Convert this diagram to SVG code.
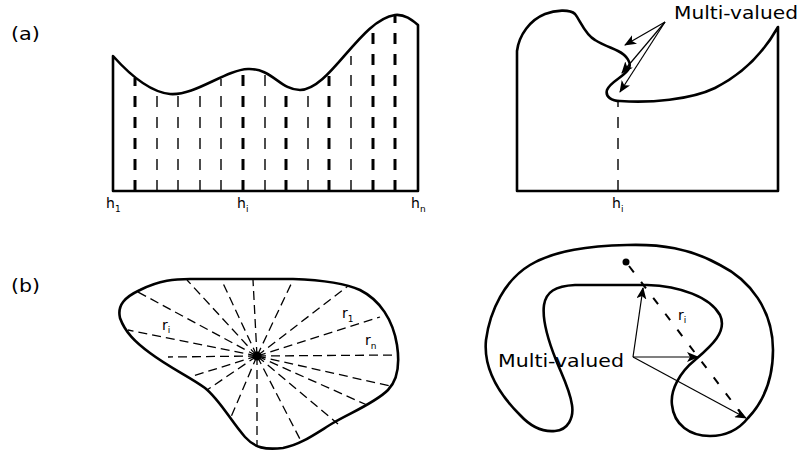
<svg xmlns="http://www.w3.org/2000/svg" width="800" height="452" viewBox="0 0 800 452">
<defs>
<style>
.outline{fill:none;stroke:#000;stroke-width:2.6;stroke-linejoin:round;stroke-linecap:round}
.thick{stroke:#000;stroke-width:3;stroke-dasharray:11 10}
.thin{stroke:#000;stroke-width:1.4;stroke-dasharray:11 10}
.ray{stroke:#000;stroke-width:1.3;stroke-dasharray:9 5;fill:none}
.arr{stroke:#000;stroke-width:1.2;fill:none;marker-end:url(#ah)}
.lbl{font-family:"DejaVu Sans","Liberation Sans",sans-serif;fill:#000}
.sub{font-size:9px}
</style>
<marker id="ah" viewBox="0 0 12 10" refX="11" refY="5" markerWidth="12" markerHeight="10" markerUnits="userSpaceOnUse" orient="auto">
<path d="M0,0 L12,5 L0,10 L3,5 Z" fill="#000"/>
</marker>
</defs>
<rect width="800" height="452" fill="#fff"/>

<text class="lbl" x="11" y="40" font-size="17" textLength="29" lengthAdjust="spacingAndGlyphs">(a)</text>
<text class="lbl" x="11" y="292" font-size="17" textLength="29" lengthAdjust="spacingAndGlyphs">(b)</text>

<!-- (a) left: height field -->
<g id="heightfield">
<path class="outline" d="M113,191 V56 C130,75 150,92 170,94 C195,96 225,70 248,69 C272,68 280,90 300,90 C330,90 360,20 395,15 C405,14 412,20 418,25 V191 Z"/>
<g id="samples">
<path class="thick" d="M135,191 V78"/>
<path class="thin" d="M157,191 V89"/>
<path class="thin" d="M178,191 V95"/>
<path class="thin" d="M200,191 V90"/>
<path class="thin" d="M221,191 V79"/>
<path class="thick" d="M243,191 V70"/>
<path class="thin" d="M265,191 V75"/>
<path class="thick" d="M286,191 V87"/>
<path class="thin" d="M308,191 V89"/>
<path class="thick" d="M329,191 V76"/>
<path class="thin" d="M351,191 V56"/>
<path class="thick" d="M373,191 V33"/>
<path class="thick" d="M395,191 V16"/>
</g>
<text class="lbl" x="106" y="208" font-size="14">h<tspan class="sub" dy="4">1</tspan></text>
<text class="lbl" x="237" y="208" font-size="14">h<tspan class="sub" dy="4">i</tspan></text>
<text class="lbl" x="411" y="208" font-size="14">h<tspan class="sub" dy="4">n</tspan></text>
</g>

<!-- (a) right: multi-valued height -->
<g id="overhang">
<path class="outline" d="M517,191 V51 C519,35 530,20 545,14 C555,10 570,9 575,14 C580,20 585,35 595,40 C603,45 612,48 618,51 C626,55 633,63 628,70 C622,78 610,82 607,90 C605,97 612,101 620,101 C650,103 690,100 715,88 C745,73 765,50 778,27 V191 Z"/>
<path class="thin" d="M618,191 V101"/>
<text class="lbl" x="612" y="208" font-size="14">h<tspan class="sub" dy="4">i</tspan></text>
<text class="lbl" x="674" y="19" font-size="17" textLength="124" lengthAdjust="spacingAndGlyphs">Multi-valued</text>
</g>

<!-- (b) left: star-shaped region -->
<g id="starshape">
<path class="outline" d="M140,290 C160,280 175,279 190,279 L293,279 C320,280 345,283 360,290 C380,300 393,320 397,345 C400,365 398,380 388,390 C375,403 350,413 333,423 C315,434 300,445 283,448 C265,450 255,448 245,437 C230,420 220,400 205,388 C190,377 170,368 150,353 C135,342 125,332 120,318 C117,305 125,297 140,290 Z"/>
<g id="rays">
<path class="ray" d="M257,356 L138,292"/>
<path class="ray" d="M257,356 L187,280"/>
<path class="ray" d="M257,356 L222,281"/>
<path class="ray" d="M257,356 L253,280"/>
<path class="ray" d="M257,356 L293,280"/>
<path class="ray" d="M257,356 L348,286"/>
<path class="ray" d="M257,356 L380,317"/>
<path class="ray" d="M257,356 L398,355"/>
<path class="ray" d="M257,356 L390,386"/>
<path class="ray" d="M257,356 L367,405"/>
<path class="ray" d="M257,356 L338,424"/>
<path class="ray" d="M257,356 L302,443"/>
<path class="ray" d="M257,356 L257,446"/>
<path class="ray" d="M257,356 L231,417"/>
<path class="ray" d="M257,356 L207,390"/>
<path class="ray" d="M257,356 L193,376"/>
<path class="ray" d="M257,356 L168,357"/>
<path class="ray" d="M257,356 L128,330"/>
</g>
<circle cx="257" cy="356" r="4.5" fill="#000"/>
<text class="lbl" x="162" y="330" font-size="14">r<tspan class="sub" dy="3">i</tspan></text>
<text class="lbl" x="342" y="318" font-size="14">r<tspan class="sub" dy="4">1</tspan></text>
<text class="lbl" x="365" y="345" font-size="14">r<tspan class="sub" dy="4">n</tspan></text>
</g>

<!-- (b) right: non-star-shaped region -->
<g id="cshape">
<path class="outline" d="M575,285 L647,285 C680,286 710,297 720,315 C728,332 710,347 695,360 C680,372 670,390 672,405 C674,425 690,436 710,436 C728,436 740,428 748,418 C765,400 773,378 773,350 C773,310 750,280 720,265 C690,248 660,244 627,245 C590,246 555,250 530,265 C505,280 490,310 486,340 C483,370 500,395 520,415 C532,428 545,432 555,431 C568,430 574,418 572,405 C570,390 562,375 556,360 C548,340 542,320 544,305 C546,292 555,286 575,285 Z"/>
<circle cx="626" cy="262" r="3.5" fill="#000"/>
<path d="M629,266 L743,416" stroke="#000" stroke-width="2" stroke-dasharray="8 12" fill="none"/>
<text class="lbl" x="678" y="320" font-size="14">r<tspan class="sub" dy="3">i</tspan></text>
<text class="lbl" x="498" y="367" font-size="17" textLength="126" lengthAdjust="spacingAndGlyphs">Multi-valued</text>
</g>

<g id="connectors">
<path class="arr" d="M665,22 L625,45"/>
<path class="arr" d="M665,22 L622,73"/>
<path class="arr" d="M665,22 L620,92"/>
<path class="arr" d="M633,357 L643,288"/>
<path class="arr" d="M633,357 L698,357"/>
<path class="arr" d="M633,357 L746,418"/>
</g>
</svg>
